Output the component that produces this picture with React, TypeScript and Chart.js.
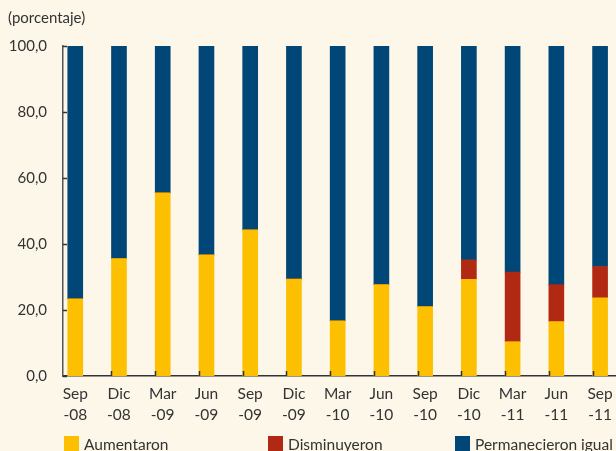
import React, { useEffect, useRef } from 'react';
import { Chart, registerables } from 'chart.js';

Chart.register(...registerables);

const categories: string[][] = [
  ['Sep', '-08'], ['Dic', '-08'], ['Mar', '-09'], ['Jun', '-09'], ['Sep', '-09'],
  ['Dic', '-09'], ['Mar', '-10'], ['Jun', '-10'], ['Sep', '-10'], ['Dic', '-10'],
  ['Mar', '-11'], ['Jun', '-11'], ['Sep', '-11'],
];
const aumentaron = [23.4, 35.6, 55.5, 36.7, 44.3, 29.4, 16.7, 27.7, 21.0, 29.3, 10.4, 16.5, 23.7];
const disminuyeron = [0, 0, 0, 0, 0, 0, 0, 0, 0, 5.9, 21.1, 11.2, 9.5];
const permanecieron = [76.6, 64.4, 44.5, 63.3, 55.7, 70.6, 83.3, 72.3, 79.0, 64.8, 68.5, 72.3, 66.8];
const yTicks = [0, 20, 40, 60, 80, 100];
const seriesNames = ['Aumentaron', 'Disminuyeron', 'Permanecieron igual'];

const COLORS = ['#fcc000', '#b12913', '#004677'];
const BG = '#fdf7ea';
const TEXT = '#333333';
const FONT = 'Lato, "Open Sans", sans-serif';
const BAR_W = 15;
const CANVAS_W = 660;

const insideTicks = {
  id: 'insideTicks',
  afterDraw(chart: any) {
    const { ctx, chartArea, scales } = chart;
    const x = scales.x;
    const y = scales.y;
    ctx.save();
    ctx.strokeStyle = '#333';
    ctx.lineWidth = 1.5;
    ctx.beginPath();
    for (const v of yTicks) {
      const py = Math.round(y.getPixelForValue(v)) + 0.5;
      ctx.moveTo(chartArea.left, py);
      ctx.lineTo(chartArea.left + 4, py);
    }
    for (let i = 1; i < categories.length; i++) {
      const px = Math.round(x.getPixelForValue(i) - BAR_W / 2) + 0.5;
      ctx.moveTo(px, chartArea.bottom);
      ctx.lineTo(px, chartArea.bottom - 5);
    }
    ctx.stroke();
    ctx.restore();
  },
};

export default function App() {
  const ref = useRef<HTMLCanvasElement | null>(null);

  useEffect(() => {
    if (!ref.current) return;
    const series = [aumentaron, disminuyeron, permanecieron];
    const chart = new Chart(ref.current, {
      type: 'bar',
      data: {
        datasets: series.map((s, k) => ({
          label: seriesNames[k],
          data: s.map((v, i) => ({ x: i, y: v })),
          backgroundColor: COLORS[k],
          borderWidth: 0,
          barThickness: BAR_W,
        })),
      },
      options: {
        responsive: false,
        animation: false,
        layout: { padding: { top: 46, left: 0, right: 0, bottom: 0 } },
        plugins: { legend: { display: false }, tooltip: { enabled: false }, title: { display: false } },
        scales: {
          x: {
            type: 'linear',
            offset: false,
            stacked: true,
            min: -0.28,
            max: 13.37,
            grid: { display: false, drawTicks: false, offset: false },
            border: { display: true, color: '#333', width: 1.5 },
            afterBuildTicks: (s: any) => {
              s.ticks = categories.map((_, i) => ({ value: i }));
            },
            afterFit: (s: any) => {
              s.height = 75;
            },
            ticks: {
              autoSkip: false,
              maxRotation: 0,
              padding: 8,
              color: TEXT,
              font: { family: FONT, size: 15.5, lineHeight: 1.35 },
              callback: (v: any) => categories[v as number],
            },
          },
          y: {
            stacked: true,
            min: 0,
            max: 100,
            grid: { display: false, drawTicks: false },
            border: { display: true, color: '#555', width: 1.5 },
            afterBuildTicks: (s: any) => {
              s.ticks = yTicks.map((v) => ({ value: v }));
            },
            afterFit: (s: any) => {
              s.width = 63;
            },
            ticks: {
              padding: 16,
              color: TEXT,
              font: { family: FONT, size: 15 },
              callback: (v: any) => Number(v).toFixed(1).replace('.', ','),
            },
          },
        },
      },
      plugins: [insideTicks],
    } as any);
    return () => chart.destroy();
  }, []);

  const legendLeft = [64, 268, 455];

  return (
    <div
      style={{
        position: 'fixed',
        left: 0,
        top: 0,
        width: 616,
        height: 451,
        overflow: 'hidden',
        background: BG,
        fontFamily: FONT,
        color: TEXT,
      }}
    >
      <canvas ref={ref} width={CANVAS_W} height={451} style={{ display: 'block', width: CANVAS_W, height: 451 }} />
      <span style={{ position: 'absolute', left: 8, top: 8, fontSize: 15, lineHeight: '18px' }}>(porcentaje)</span>
      {seriesNames.map((name, k) => (
        <div
          key={name}
          style={{ position: 'absolute', left: legendLeft[k], top: 435, display: 'flex', alignItems: 'flex-start', whiteSpace: 'nowrap' }}
        >
          <span style={{ display: 'inline-block', width: 15, height: 15, background: COLORS[k], marginTop: 1 }} />
          <span style={{ marginLeft: 5, fontSize: 15.5, lineHeight: '18px' }}>{name}</span>
        </div>
      ))}
    </div>
  );
}
